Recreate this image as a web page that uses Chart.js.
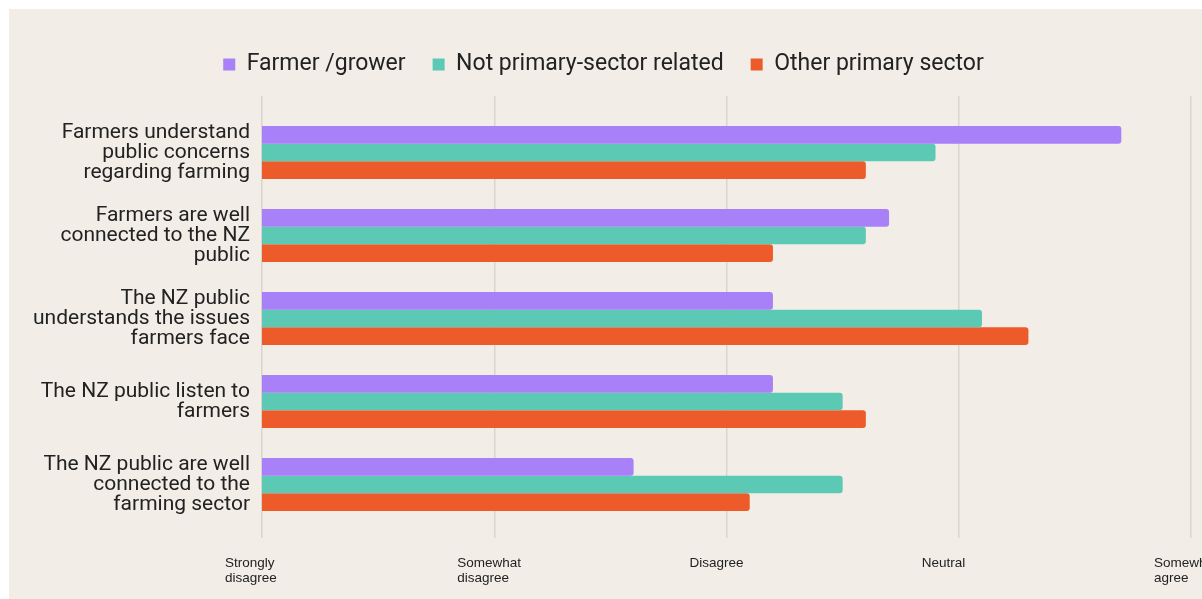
<!DOCTYPE html>
<html><head><meta charset="utf-8">
<script src="https://cdn.jsdelivr.net/npm/chart.js@4.4.1/dist/chart.umd.min.js"></script>
<style>
html,body{margin:0;padding:0;background:#fff;width:1202px;height:599px;overflow:hidden;}
#wrap{position:absolute;left:9px;top:9px;width:1193px;height:590px;background:#f2eee7;}
canvas{display:block}
</style></head><body>
<div id="wrap"><canvas id="c" width="1193" height="590"></canvas></div>
<script>
const categories = [
  ["Farmers understand","public concerns","regarding farming"],
  ["Farmers are well","connected to the NZ","public"],
  ["The NZ public","understands the issues","farmers face"],
  ["The NZ public listen to","farmers"],
  ["The NZ public are well","connected to the","farming sector"]
];
const scaleValues = [1,2,3,4,5];
const scaleLabels = [["Strongly","disagree"],["Somewhat","disagree"],["Disagree"],["Neutral"],["Somewhat","agree"]];
const seriesNames = ["Farmer /grower","Not primary-sector related","Other primary sector"];
const farmerGrower = [4.7,3.7,3.2,3.2,2.6];
const notPrimary = [3.9,3.6,4.1,3.5,3.5];
const otherPrimary = [3.6,3.2,4.3,3.6,3.1];
const colors = ["#a880f7","#5cc9b4","#ed5b2b"];

const gridColor = "#d9d5ce";
const ds = [farmerGrower, notPrimary, otherPrimary].map((d,i)=>({
  label: seriesNames[i], data: d, backgroundColor: colors[i], borderColor: colors[i],
  borderWidth: 0, borderRadius: 3, borderSkipped: 'start'
}));

new Chart(document.getElementById('c'), {
  type: 'bar',
  data: { labels: categories, datasets: ds },
  options: {
    indexAxis: 'y', responsive: false, animation: false,
    devicePixelRatio: 1,
    layout: { padding: { top: 17, right: 11, left: 7, bottom: 0 } },
    datasets: { bar: { barPercentage: 1, categoryPercentage: 0.64 } },
    plugins: {
      legend: { position: 'top', labels: { boxWidth: 12, boxHeight: 12, padding: 27, color: '#222',
        font: { family: 'Roboto', size: 23 } } },
      tooltip: { enabled: false }
    },
    scales: {
      x: { type: 'linear', min: 1, max: 5, position: 'bottom',
        ticks: { stepSize: 1, autoSkip: false, maxRotation: 0, minRotation: 0, align: 'start', labelOffset: -37, padding: 18,
          color: '#222', font: { family: 'Liberation Sans', size: 13.5, lineHeight: '15px' },
          callback: (v, i) => scaleLabels[scaleValues.indexOf(v)] },
        grid: { color: gridColor, lineWidth: 1.5, tickLength: 12, drawTicks: true },
        border: { display: false },
        afterFit(s) { s.height = 73; s.paddingLeft = 0; s.paddingRight = 0; } },
      x2: { type: 'linear', min: 1, max: 5, position: 'top',
        ticks: { stepSize: 1, display: false },
        grid: { color: gridColor, lineWidth: 1.5, tickLength: 15, drawOnChartArea: false, drawTicks: true },
        border: { display: false },
        afterFit(s) { s.height = 25; s.paddingLeft = 0; s.paddingRight = 0; } },
      y: { grid: { display: false, drawTicks: false }, border: { display: false },
        ticks: { color: '#222', padding: 12, font: { family: 'Roboto', size: 21, lineHeight: '20px' } },
        afterFit(s) { s.width = 246; } }
    }
  }
});
</script>
</body></html>
